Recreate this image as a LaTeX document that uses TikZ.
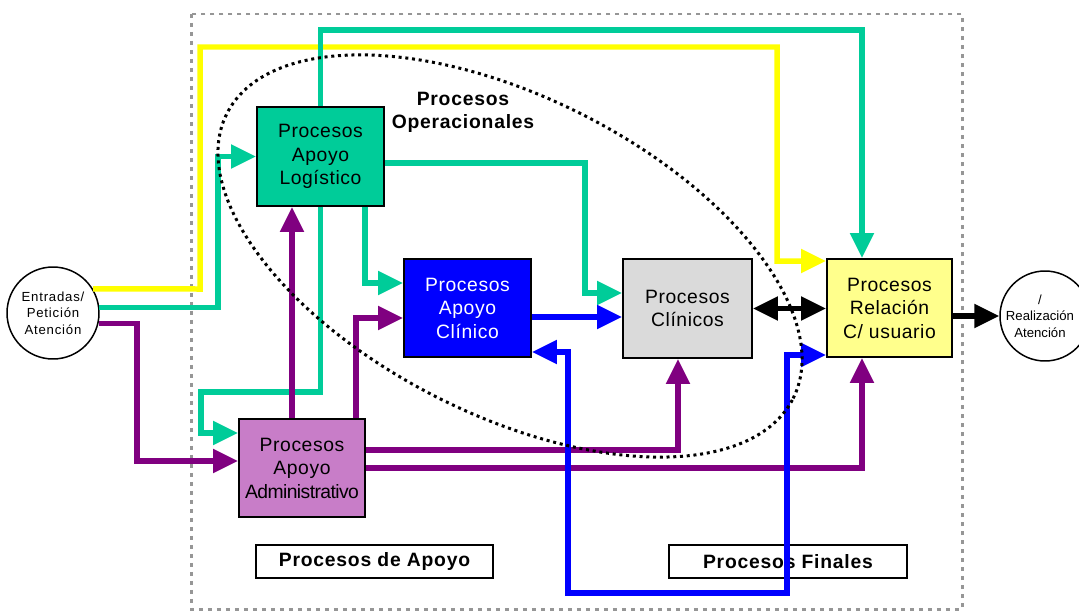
\documentclass[tikz,border=0pt]{standalone}
\usepackage{fontspec}
\setmainfont{Liberation Sans}
\newfontfamily\spfont[LetterSpace=3]{Liberation Sans}
\newfontfamily\lblfont[LetterSpace=4]{Liberation Sans}
\newfontfamily\circfont[LetterSpace=6]{Liberation Sans}
\usetikzlibrary{arrows.meta,calc}
\definecolor{tealc}{RGB}{0,204,153}
\definecolor{purp}{RGB}{128,0,128}
\definecolor{bluec}{RGB}{0,0,255}
\definecolor{yel}{RGB}{255,255,0}
\definecolor{admfill}{RGB}{200,125,200}
\definecolor{clisfill}{RGB}{218,218,218}
\definecolor{relfill}{RGB}{255,255,140}
\definecolor{framegray}{RGB}{150,150,150}
\begin{document}
\begin{tikzpicture}[x=0.02cm,y=-0.02cm,
  proc/.style={draw=black, line width=0.04cm, inner sep=0pt, align=center,
    font=\spfont\fontsize{11}{13.4}\selectfont},
  lbl/.style={draw=black, line width=0.04cm, inner sep=0pt, align=center,
    minimum height=0.66cm, font=\lblfont\bfseries\fontsize{11}{13}\selectfont},
  circ/.style={circle, draw=black, line width=0.03cm, inner sep=0pt, align=center,
    font=\circfont\fontsize{7.5}{9.3}\selectfont},
  conn/.style={line width=0.11cm, line join=miter},
  tip/.style={-{Triangle[length=0.5cm,width=0.46cm]}},
  dtip/.style={{Triangle[length=0.5cm,width=0.46cm]}-{Triangle[length=0.5cm,width=0.46cm]}},
  frame/.style={draw=framegray, line width=0.06cm, dash pattern=on 0.08cm off 0.1cm},
  oval/.style={draw=black, line width=0.06cm, dash pattern=on 0.06cm off 0.075cm}
]
\useasboundingbox (0,0) rectangle (1079,612);
\clip (0,0) rectangle (1079,612);

% outer frame
\draw[frame] (191,14) rectangle (962,609);

% labels
\node[lbl, minimum width=4.74cm] (apoyo) at (374.5,561.5) {Procesos de Apoyo};
\node[lbl, minimum width=4.76cm] (finales) at (788,561.5) {Procesos Finales};
\node[font=\lblfont\bfseries\fontsize{11}{13.2}\selectfont, align=center] (oper) at (463,112) {Procesos\\Operacionales};

% process boxes
\node[proc, fill=tealc, minimum width=2.54cm, minimum height=1.98cm] (log) at (320.5,156.5) {Procesos\\Apoyo\\Logístico};
\node[proc, fill=bluec, text=white, minimum width=2.54cm, minimum height=1.96cm] (cli) at (467.5,308) {Procesos\\Apoyo\\Clínico};
\node[proc, fill=clisfill, minimum width=2.58cm, minimum height=1.98cm] (clis) at (687.5,308.5) {Procesos\\Clínicos};
\node[proc, fill=relfill, minimum width=2.5cm, minimum height=1.96cm] (rel) at (889.5,308) {Procesos\\Relación\\C/ usuario};
\node[proc, fill=admfill, minimum width=2.52cm, minimum height=1.96cm] (adm) at (302,468) {Procesos\\Apoyo\\{\addfontfeature{LetterSpace=-3}Administrativo}};

% circles
\node[circ, minimum size=1.84cm] (ent) at (53,313) {Entradas/\\Petición\\Atención};
\node[circ, minimum size=1.8cm] (real) at (1045,316) {};
\node[font=\fontsize{7.5}{9.3}\selectfont, align=center, inner sep=0pt] (realtxt) at (1040,316) {/\\Realización\\Atención};

% yellow
\draw[conn, yel, tip] (ent.31.4) -- (200,289) |- (777,47) |- (rel.west |- 0,261);
% teal
\draw[conn, tealc, tip] (ent.7.5) -| (218,156.5) -- (log.west);
\draw[conn, tealc, tip] (log.north) |- (862,30) -- (rel.north -| 862,0);
\draw[conn, tealc, tip] (log.east |- 0,163) -| (585,293) -- (clis.west |- 0,293);
\draw[conn, tealc, tip] (log.south -| 365,0) |- (cli.west |- 0,283);
\draw[conn, tealc, tip] (log.south) -- (320.5,392) -| (201,433) -- (adm.west |- 0,433);
% purple
\draw[conn, purp, tip] (ent.-13.8) -| (137,461) -- (adm.west |- 0,461);
\draw[conn, purp, tip] (adm.north -| 292,0) -- (log.south -| 292,0);
\draw[conn, purp, tip] (adm.north -| 356,0) |- (cli.west |- 0,318);
\draw[conn, purp, tip] (adm.east |- 0,450) -| (clis.south -| 678,0);
\draw[conn, purp, tip] (adm.east |- 0,468) -| (rel.south -| 862,0);
% blue
\draw[conn, bluec, tip] (cli.east |- 0,317) -- (clis.west |- 0,317);
\draw[conn, bluec, dtip] (cli.east |- 0,352) -| (568,593) -| (787,355) -- (rel.west |- 0,355);
% black
\draw[conn, black, dtip] (clis.east) -- (clis.east -| rel.west);
\draw[conn, black, tip] (real.west -| rel.east) -- (real.west);

% operational processes oval
\draw[oval, rotate around={-26.7:(510,256)}] (510,256) ellipse [x radius=6.34cm, y radius=3.18cm];
\end{tikzpicture}
\end{document}
